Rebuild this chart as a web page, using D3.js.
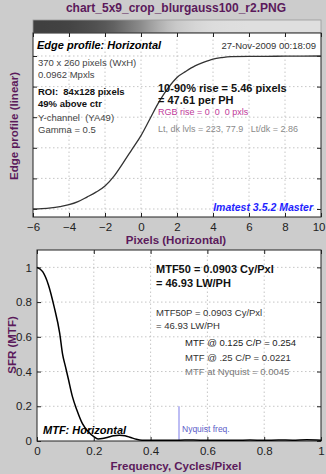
<!DOCTYPE html>
<html><head><meta charset="utf-8">
<script src="https://cdn.jsdelivr.net/npm/d3@7/dist/d3.min.js"></script>
<style>
body{margin:0;background:#cccccc;}
svg{display:block;font-family:"Liberation Sans",Arial,sans-serif;}
</style></head>
<body><svg id="c" width="326" height="474"></svg>
<script>
// ---- data ----
const titleText = "chart_5x9_crop_blurgauss100_r2.PNG";
const edgeX = [-6,-5.5,-5,-4.5,-4,-3.5,-3,-2.5,-2,-1.5,-1,-0.5,0,0.5,1,1.5,2,2.5,3,3.5,4,4.5,5,6,7,8,9,10];
const edgeY = [0,0.002,0.007,0.016,0.028,0.048,0.078,0.11,0.15,0.215,0.30,0.39,0.48,0.59,0.70,0.79,0.86,0.90,0.935,0.96,0.98,0.99,0.996,0.998,0.998,0.999,0.999,1.0];
const edgeXTicks = [-6,-4,-2,0,2,4,6,8,10];
const edgeYTicks = [0,0.2,0.4,0.6,0.8,1.0];
const lightLevel = 223, darkLevel = 77.9;

const freq = [0,0.02,0.04,0.06,0.08,0.09,0.10,0.11,0.125,0.14,0.16,0.18,0.20,0.215,0.23,0.25,0.27,0.29,0.31,0.33,0.35,0.37,0.40,0.45,0.50,0.55,0.60,0.65,0.70,0.75,0.80,0.85,0.90,0.95,1.0];
const mtf  = [1.0,0.975,0.90,0.775,0.62,0.50,0.43,0.36,0.254,0.18,0.10,0.055,0.025,0.012,0.014,0.0221,0.030,0.033,0.030,0.020,0.010,0.005,0.005,0.004,0.0045,0.006,0.004,0.005,0.004,0.006,0.004,0.006,0.005,0.007,0.005];
const freqTicks = [0,0.2,0.4,0.6,0.8,1];
const mtfTicks = [0,0.2,0.4,0.6,0.8,1];
const nyquist = 0.5;

const topInfo = ["370 x 260 pixels (WxH)","0.0962 Mpxls"];
const roiInfo = ["ROI:  84x128 pixels","49% above ctr"];
const chanInfo = ["Y-channel  (YA49)","Gamma = 0.5"];
const riseInfo = ["10-90% rise = 5.46 pixels","= 47.61 per PH"];
const mtf50Info = ["MTF50 = 0.0903 Cy/Pxl","= 46.93 LW/PH"];
const mtf50pInfo = ["MTF50P = 0.0903 Cy/Pxl","= 46.93 LW/PH"];
const mtfAt = ["MTF @ 0.125 C/P = 0.254","MTF @ .25 C/P = 0.0221","MTF at Nyquist = 0.0045"];

// ---- drawing ----
const svg = d3.select("#c");
const purple = "#5b1a5b";

svg.append("text").attr("x",176).attr("y",12).attr("text-anchor","middle")
  .attr("font-size",12).attr("font-weight","bold").attr("fill",purple).text(titleText);

function frame(g, x, y, xt, yt, showY){
  const [x0,x1] = x.range(), [y0,y1] = y.range();
  g.append("rect").attr("x",x0).attr("y",y1).attr("width",x1-x0).attr("height",y0-y1).attr("fill","#fff");
  const grid = g.append("g").attr("stroke","#b8b8b8").attr("stroke-dasharray","1.5,2.5").attr("stroke-width",0.8);
  xt.forEach(t=>{ const px=x(t); if(px>x0+1&&px<x1-1) grid.append("line").attr("x1",px).attr("x2",px).attr("y1",y0).attr("y2",y1);});
  yt.forEach(t=>{ const py=y(t); if(py<y0-1&&py>y1+1) grid.append("line").attr("x1",x0).attr("x2",x1).attr("y1",py).attr("y2",py);});
  const ax = d3.axisBottom(x).tickValues(xt).tickSize(-4).tickPadding(6).tickFormat(d3.format("~g"));
  const axT = d3.axisTop(x).tickValues(xt).tickSize(-4).tickFormat("");
  const ayL = d3.axisLeft(y).tickValues(yt).tickSize(-4).tickPadding(5).tickFormat(showY?d3.format("~g"):"");
  const ayR = d3.axisRight(y).tickValues(yt).tickSize(-4).tickFormat("");
  const groups = [];
  [[ax,`translate(0,${y0})`],[axT,`translate(0,${y1})`],[ayL,`translate(${x0},0)`],[ayR,`translate(${x1},0)`]].forEach(([a,tr])=>{
    const gg = g.append("g").attr("transform",tr).call(a);
    gg.selectAll(".domain").remove();
    gg.selectAll("line").attr("stroke","#222");
    gg.selectAll("text").attr("font-size",11.5).attr("fill","#222").attr("font-family","Liberation Sans, Arial, sans-serif");
    groups.push(gg);
  });
  // keep the last bottom label inside the window
  const last = groups[0].selectAll(".tick text").filter((d,i,n)=>i===n.length-1);
  const w = last.node().getComputedTextLength();
  if (x1 + w/2 > 325) last.attr("text-anchor","end").attr("x", 325 - x1);
  g.append("rect").attr("x",x0).attr("y",y1).attr("width",x1-x0).attr("height",y0-y1).attr("fill","none").attr("stroke","#222").attr("stroke-width",1);
}

// Top plot
const xT = d3.scaleLinear([-6,10],[33,321]);
const yT = d3.scaleLinear([-0.0523,1.1503],[217,33]);
const gT = svg.append("g");

// gradient strip derived from profile
const defs = svg.append("defs");
const grad = defs.append("linearGradient").attr("id","edgegrad").attr("x1","0").attr("x2","1").attr("y1","0").attr("y2","0");
edgeX.forEach((v,i)=>{
  const lv = Math.round(darkLevel*0.82 + (lightLevel-darkLevel*0.82)*edgeY[i]);
  grad.append("stop").attr("offset",(xT(v)-33)/(321-33)).attr("stop-color",d3.rgb(lv,lv,lv));
});
gT.append("rect").attr("x",33).attr("y",20).attr("width",288).attr("height",13).attr("fill","url(#edgegrad)").attr("stroke","#999").attr("stroke-width",0.8);

frame(gT, xT, yT, edgeXTicks, edgeYTicks, false);
gT.append("path").datum(edgeX.map((v,i)=>[v,edgeY[i]]))
  .attr("d", d3.line().x(d=>xT(d[0])).y(d=>yT(d[1])).curve(d3.curveMonotoneX))
  .attr("fill","none").attr("stroke","#333").attr("stroke-width",1.3);

function txt(g,x,y,s,o){
  const t=g.append("text").attr("x",x).attr("y",y).text(s).attr("font-size",o.size||9.5).attr("fill",o.fill||"#333");
  if(o.bold) t.attr("font-weight","bold");
  if(o.italic) t.attr("font-style","italic");
  if(o.anchor) t.attr("text-anchor",o.anchor);
  return t;
}
txt(gT,37,49,"Edge profile: Horizontal",{size:11,bold:true,italic:true,fill:"#000"});
txt(gT,316,49,"27-Nov-2009 00:18:09",{size:9.5,fill:"#333",anchor:"end"});
txt(gT,38,66,topInfo[0],{fill:"#444"});
txt(gT,38,78,topInfo[1],{fill:"#444"});
txt(gT,38,95,roiInfo[0],{bold:true,fill:"#111"}).style("white-space","pre");
txt(gT,38,107,roiInfo[1],{bold:true,fill:"#111"});
txt(gT,38,121,chanInfo[0],{fill:"#444"}).style("white-space","pre");
txt(gT,38,133,chanInfo[1],{fill:"#444"});
txt(gT,158,92,riseInfo[0],{size:11,bold:true,fill:"#111"});
txt(gT,158,104,riseInfo[1],{size:11,bold:true,fill:"#111"});
txt(gT,158,115,"RGB rise = 0  0  0 pxls",{size:9,fill:"#c0399a"}).style("white-space","pre");
txt(gT,158,132,`Lt, dk lvls = ${lightLevel}, ${darkLevel}   Lt/dk = 2.86`,{size:9,fill:"#8a8a8a"}).style("white-space","pre");
txt(gT,313,211,"Imatest 3.5.2 Master",{size:10.5,bold:true,italic:true,fill:"#1f1fff",anchor:"end"});

svg.append("text").attr("transform","translate(18,126) rotate(-90)").attr("text-anchor","middle")
  .attr("font-size",11.5).attr("font-weight","bold").attr("fill",purple).text("Edge profile (linear)");
svg.append("text").attr("x",176).attr("y",244).attr("text-anchor","middle")
  .attr("font-size",11.5).attr("font-weight","bold").attr("fill",purple).text("Pixels (Horizontal)");

// Bottom plot
const xB = d3.scaleLinear([0,1],[37,321]);
const yB = d3.scaleLinear([0,1.1],[441,250]);
const gB = svg.append("g");
frame(gB, xB, yB, freqTicks, mtfTicks, true);
gB.append("line").attr("x1",xB(nyquist)).attr("x2",xB(nyquist)).attr("y1",yB(0)).attr("y2",yB(0.2))
  .attr("stroke","#9a9aee").attr("stroke-width",1.3);
txt(gB,xB(nyquist)+3,432,"Nyquist freq.",{size:8.5,fill:"#5c5cc8"});
gB.append("path").datum(freq.map((v,i)=>[v,mtf[i]]))
  .attr("d", d3.line().x(d=>xB(d[0])).y(d=>yB(d[1])).curve(d3.curveMonotoneX))
  .attr("fill","none").attr("stroke","#000").attr("stroke-width",1.5);
txt(gB,43,434,"MTF: Horizontal",{size:11,bold:true,italic:true,fill:"#000"});
txt(gB,156,273,mtf50Info[0],{size:11,bold:true,fill:"#111"});
txt(gB,156,287,mtf50Info[1],{size:11,bold:true,fill:"#111"});
txt(gB,156,316,mtf50pInfo[0],{fill:"#333"});
txt(gB,156,329,mtf50pInfo[1],{fill:"#333"});
txt(gB,185,346,mtfAt[0],{fill:"#222"});
txt(gB,185,361,mtfAt[1],{fill:"#333"});
txt(gB,185,375,mtfAt[2],{fill:"#777"});

svg.append("text").attr("transform","translate(16,345) rotate(-90)").attr("text-anchor","middle")
  .attr("font-size",11.5).attr("font-weight","bold").attr("fill",purple).text("SFR (MTF)");
svg.append("text").attr("x",176).attr("y",470).attr("text-anchor","middle")
  .attr("font-size",11.5).attr("font-weight","bold").attr("fill",purple).text("Frequency, Cycles/Pixel");
</script></body></html>
